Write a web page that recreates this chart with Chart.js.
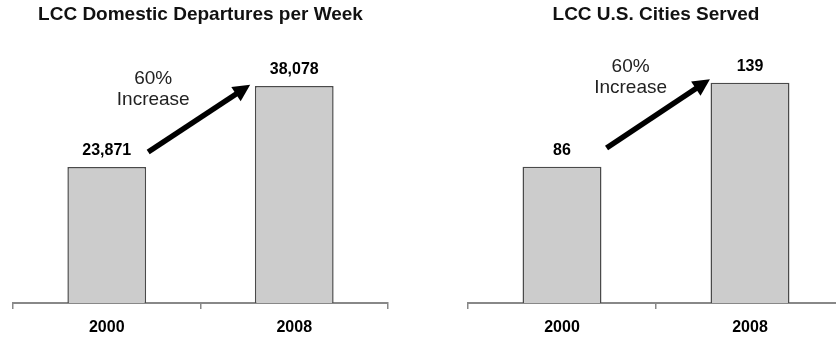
<!DOCTYPE html>
<html>
<head>
<meta charset="utf-8">
<script src="https://cdn.jsdelivr.net/npm/chart.js@4/dist/chart.umd.min.js"></script>
<style>
  html, body { margin: 0; padding: 0; background: #fff; overflow: hidden; }
  body { width: 836px; height: 337px; position: relative; }
  .panel { position: absolute; top: 0; height: 337px; }
  #p1 { left: 0; width: 418px; }
  #p2 { left: 418px; width: 430px; }
</style>
</head>
<body>
<div class="panel" id="p1"><canvas id="c1"></canvas></div>
<div class="panel" id="p2"><canvas id="c2"></canvas></div>
<script>
// Shared categories
const years = ['2000', '2008'];

// Weekly domestic departures of low-cost carriers
const departures = [23871, 38078];
// U.S. cities served by low-cost carriers
const cities = [86, 139];

const titles = ['LCC Domestic Departures per Week', 'LCC U.S. Cities Served'];
const noteLines = ['60%', 'Increase'];

const FONT = '"Liberation Sans", Arial, Helvetica, sans-serif';

// Annotation placement in data space: x as fractional category index, y as value
const layouts = {
  c1: { yMax: 46150, padL: 13, padR: 30,
        note: [0.248, 37465],
        arrow: [[0.221, 26505], [0.765, 38300]] },
  c2: { yMax: 166, padL: 50, padR: 4,
        note: [0.365, 142.3],
        arrow: [[0.237, 97.8], [0.787, 141.3]] }
};

// Draws value labels above bars, the growth note and the arrow
const annotate = {
  id: 'annotate',
  afterDatasetsDraw(chart) {
    const ctx = chart.ctx;
    const xs = chart.scales.x, ys = chart.scales.y;
    const cfg = layouts[chart.canvas.id];
    const meta = chart.getDatasetMeta(0);
    const values = chart.data.datasets[0].data;
    ctx.save();
    ctx.fillStyle = '#000';
    ctx.textAlign = 'center';
    ctx.textBaseline = 'middle';
    ctx.font = 'bold 16px ' + FONT;
    meta.data.forEach((bar, i) => {
      ctx.fillText(values[i].toLocaleString('en-US'), bar.x, bar.y - 16.5);
    });

    // growth note
    ctx.font = '19px ' + FONT;
    ctx.fillStyle = '#222';
    const nx = xs.getPixelForValue(cfg.note[0]);
    const ny = ys.getPixelForValue(cfg.note[1]);
    ctx.fillText(noteLines[0], nx, ny - 10.5);
    ctx.fillText(noteLines[1], nx, ny + 10.5);

    // arrow
    const x0 = xs.getPixelForValue(cfg.arrow[0][0]);
    const y0 = ys.getPixelForValue(cfg.arrow[0][1]);
    const x1 = xs.getPixelForValue(cfg.arrow[1][0]);
    const y1 = ys.getPixelForValue(cfg.arrow[1][1]);
    const ang = Math.atan2(y1 - y0, x1 - x0);
    const headLen = 17, headHalf = 8.5;
    const bx = x1 - headLen * Math.cos(ang);
    const by = y1 - headLen * Math.sin(ang);
    ctx.strokeStyle = '#000';
    ctx.lineWidth = 5.5;
    ctx.lineCap = 'butt';
    ctx.beginPath();
    ctx.moveTo(x0, y0);
    ctx.lineTo(bx + 2 * Math.cos(ang), by + 2 * Math.sin(ang));
    ctx.stroke();
    ctx.fillStyle = '#000';
    ctx.beginPath();
    ctx.moveTo(x1, y1);
    ctx.lineTo(bx + headHalf * Math.sin(ang), by - headHalf * Math.cos(ang));
    ctx.lineTo(bx - headHalf * Math.sin(ang), by + headHalf * Math.cos(ang));
    ctx.closePath();
    ctx.fill();
    ctx.restore();
  }
};

function makeChart(id, title, values) {
  const cfg = layouts[id];
  return new Chart(document.getElementById(id), {
    type: 'bar',
    data: {
      labels: years,
      datasets: [{
        data: values,
        backgroundColor: '#cccccc',
        borderColor: '#4a4a4a',
        borderWidth: 1.5,
        barPercentage: 0.42,
        categoryPercentage: 1
      }]
    },
    options: {
      responsive: true,
      maintainAspectRatio: false,
      animation: false,
      events: [],
      layout: { padding: { left: cfg.padL, right: cfg.padR, top: 0, bottom: 0 } },
      plugins: {
        legend: { display: false },
        tooltip: { enabled: false },
        title: {
          display: true,
          text: title,
          fullSize: false,
          color: '#111',
          font: { family: FONT, size: 19, weight: 'bold', lineHeight: 1.2 },
          padding: { top: 3, bottom: 14.2 }
        }
      },
      scales: {
        x: {
          offset: true,
          grid: { drawOnChartArea: false, drawTicks: true, tickLength: 6, color: '#888', lineWidth: 1.5 },
          border: { display: true, color: '#888', width: 2 },
          ticks: { color: '#000', padding: 9, font: { family: FONT, size: 16, weight: 'bold' } },
          afterFit(scale) { scale.height = 34; }
        },
        y: { display: false, min: 0, max: cfg.yMax }
      }
    },
    plugins: [annotate]
  });
}

makeChart('c1', titles[0], departures);
makeChart('c2', titles[1], cities);
</script>
</body>
</html>
